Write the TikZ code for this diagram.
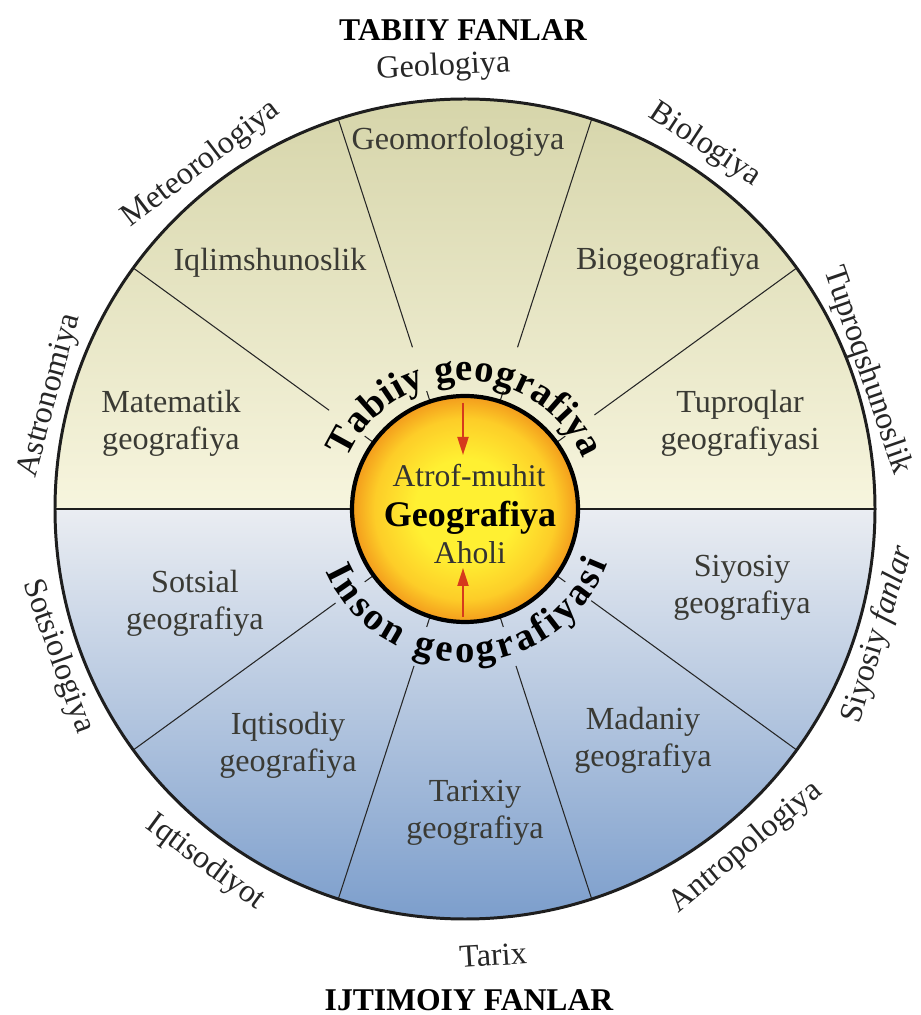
\documentclass[tikz,border=0pt]{standalone}
\usepackage{fontspec}
\setmainfont{Liberation Serif}
\usepackage{tikz}
\usetikzlibrary{arrows.meta,decorations.text}

\definecolor{khakitop}{RGB}{214,213,170}
\definecolor{khakilow}{RGB}{247,245,222}
\definecolor{bluetop}{RGB}{234,237,242}
\definecolor{bluelow}{RGB}{124,158,204}
\definecolor{sunin}{RGB}{255,240,50}
\definecolor{sunmid}{RGB}{253,205,40}
\definecolor{sunout}{RGB}{243,155,28}
\definecolor{arrowred}{RGB}{214,58,28}
\definecolor{inktext}{RGB}{58,58,52}
\definecolor{rim}{RGB}{30,30,30}
\pgfdeclareradialshading{sun}{\pgfpoint{0bp}{0bp}}{color(0bp)=(sunin);
  color(11bp)=(sunin); color(20bp)=(sunmid); color(25bp)=(sunout); color(50bp)=(sunout)}

\begin{document}
\begin{tikzpicture}[x=0.2mm,y=0.2mm,>={Triangle[length=3.6mm,width=2.2mm]},
  field node/.style={font=\fontsize{18.3}{21}\selectfont,text=inktext,align=center,inner sep=0pt},
  science node/.style={font=\fontsize{18.3}{20}\selectfont,text=black!85,inner sep=0pt},
  head node/.style={font=\fontsize{18}{20}\selectfont\bfseries,inner sep=0pt},
  core node/.style={font=\fontsize{18}{20}\selectfont,text=black!80,inner sep=0pt},
  spoke/.style={draw=black!85,line width=0.6pt}]
  \useasboundingbox (-465,-506) rectangle (455,509);

  \shade[top color=khakitop,bottom color=khakilow] (0:410) arc (0:180:410) -- cycle;
  \shade[top color=bluetop,bottom color=bluelow] (180:410) arc (180:360:410) -- cycle;

  \draw[spoke] (36:160) -- (36:410) (72:170) -- (72:410)
    (108:170) -- (108:410) (144:168) -- (144:410)
    (-36:156) -- (-36:410) (-72:165) -- (-72:410)
    (-108:165) -- (-108:410) (-144:160) -- (-144:410);
  \draw[spoke] (36:113) -- (36:124) (72:113) -- (72:124)
    (108:113) -- (108:124) (144:113) -- (144:124)
    (-36:113) -- (-36:124) (-72:113) -- (-72:124)
    (-108:113) -- (-108:124) (-144:113) -- (-144:124);
  \draw[rim,line width=1.3pt] (180:410) -- (0:410);
  \draw[rim,line width=1.7pt] (0,0) circle (410);

  \shade[shading=sun] (0,0) circle (113);
  \draw[black,line width=2.4pt] (0,0) circle (113);

  \coordinate (ringtop) at (-2,106);
  \coordinate (toptip) at (-2,54);
  \coordinate (ringbot) at (-2,-108);
  \coordinate (bottip) at (-2,-59);
  \draw[->,arrowred,line width=1.2pt] (ringtop) -- (toptip);
  \draw[->,arrowred,line width=1.2pt] (ringbot) -- (bottip);

  \node[core node] (atrof) at (4,33) {Atrof-muhit};
  \node[core node,font=\fontsize{20.5}{22}\selectfont\bfseries,text=black] (geo) at (5,-9) {Geografiya};
  \node[core node] (aholi) at (5,-44) {Aholi};

  \path[decorate,decoration={text along path,text align=fit to path,
    text={|\fontsize{22}{22}\selectfont\bfseries|Tabiiy geografiya}}]
    (157:128) arc (157:23:128);
  \path[decorate,decoration={text along path,text align=fit to path,
    text={|\fontsize{22}{22}\selectfont\bfseries|Inson geografiyasi}}]
    (204:153) arc (204:339:153);

  \node[field node] (geomorf) at (-7,367) {Geomorfologiya};
  \node[field node] (iqlim) at (-195,246) {Iqlimshunoslik};
  \node[field node] (biogeo) at (203,247) {Biogeografiya};
  \node[field node] (matem) at (-294,86) {Matematik\\geografiya};
  \node[field node] (tuproq) at (275,86) {Tuproqlar\\geografiyasi};
  \node[field node] (sotsial) at (-270,-94) {Sotsial\\geografiya};
  \node[field node] (siyosiy) at (277,-79) {Siyosiy\\geografiya};
  \node[field node] (iqtisod) at (-177,-236) {Iqtisodiy\\geografiya};
  \node[field node] (madaniy) at (178,-231) {Madaniy\\geografiya};
  \node[field node] (tarixiy) at (10,-304) {Tarixiy\\geografiya};

  \node[head node] (tabiiy) at (-2,479) {TABIIY FANLAR};
  \node[science node,rotate=2.8] (geolog) at (92.8:442) {Geologiya};
  \node[science node,rotate=37.4] (meteo) at (127.4:434) {Meteorologiya};
  \node[science node,rotate=74.7] (astro) at (164.7:430) {Astronomiya};
  \node[science node,rotate=-33.4] (biolog) at (56.6:436) {Biologiya};
  \node[science node,rotate=-71] (tuproqsh) at (19:425) {Tuproqshunoslik};
  \node[science node,rotate=-70.1] (sotsio) at (-160.1:433) {Sotsiologiya};
  \node[science node,rotate=-36.3] (iqtiso) at (-126.3:439) {Iqtisodiyot};
  \node[science node,rotate=3.6] (tarix) at (-86.4:447) {Tarix};
  \node[science node,rotate=39.7] (antropo) at (-50.3:440) {Antropologiya};
  \node[science node,rotate=73.1] (siyfan) at (-16.9:432) {Siyosiy \textit{fanlar}};
  \node[head node] (ijtimoiy) at (4,-491) {IJTIMOIY FANLAR};
\end{tikzpicture}
\end{document}
